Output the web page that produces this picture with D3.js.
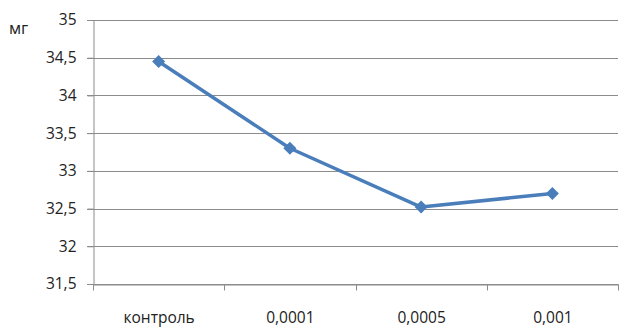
<!DOCTYPE html>
<html><head><meta charset="utf-8">
<script src="https://cdn.jsdelivr.net/npm/d3@7"></script>
<style>body{margin:0;background:#fff}svg{display:block}text{font-family:"Open Sans","Liberation Sans",sans-serif;fill:#222}</style>
</head><body><svg id="c" width="621" height="327"></svg>
<script>
const categories = ["контроль", "0,0001", "0,0005", "0,001"];
const values = [34.45, 33.3, 32.52, 32.7];
const yTicks = [31.5, 32, 32.5, 33, 33.5, 34, 34.5, 35];
const yUnit = "мг";

const svg = d3.select("#c");
const m = {left: 93, right: 3, top: 20, bottom: 43};
const W = 621, H = 327;
const x = d3.scaleBand().domain(categories).range([m.left, W - m.right]);
const y = d3.scaleLinear().domain([31.5, 35]).range([H - m.bottom, m.top]);
const fmt = d => String(d).replace(".", ",");

// gridlines
svg.append("g").selectAll("line").data(yTicks).join("line")
  .attr("x1", m.left - 6).attr("x2", W - m.right)
  .attr("y1", d => Math.round(y(d)) + 0.5).attr("y2", d => Math.round(y(d)) + 0.5)
  .attr("stroke", "#8c8c8c").attr("stroke-width", 1);

// y axis
const ya = svg.append("g").attr("transform", `translate(${m.left + 0.5},0)`)
  .call(d3.axisLeft(y).tickValues(yTicks).tickFormat(fmt).tickSize(6).tickPadding(11));
ya.select(".domain").attr("stroke", "#8c8c8c");
ya.selectAll(".tick line").attr("stroke", "#8c8c8c");
ya.selectAll("text").style("font-size", "15.5px").attr("fill", "#222");

// x axis
const xa = svg.append("g").attr("transform", `translate(0.5,${Math.round(y(31.5)) + 0.5})`)
  .call(d3.axisBottom(x).tickSize(0).tickPadding(27));
xa.select(".domain").attr("stroke", "#8c8c8c");
xa.selectAll("text").style("font-size", "15.5px").attr("fill", "#222");
xa.append("g").selectAll("line").data(categories.concat([null])).join("line")
  .attr("x1", (d, i) => Math.round(m.left + i * x.bandwidth())).attr("x2", (d, i) => Math.round(m.left + i * x.bandwidth()))
  .attr("y1", 0).attr("y2", 6).attr("stroke", "#8c8c8c");

// unit
svg.append("text").attr("x", 9).attr("y", 34).style("font-size", "16.5px").text(yUnit);

const cx = d => x(d) + x.bandwidth() / 2;
const data = categories.map((c, i) => ({c, v: values[i]}));
svg.append("path").datum(data)
  .attr("d", d3.line().x(d => cx(d.c)).y(d => y(d.v)))
  .attr("fill", "none").attr("stroke", "#4a7ebb").attr("stroke-width", 3.5).attr("stroke-linejoin", "round");
svg.append("g").selectAll("path").data(data).join("path")
  .attr("transform", d => `translate(${cx(d.c)},${y(d.v)})`)
  .attr("d", "M0,-6.5L6.5,0L0,6.5L-6.5,0Z").attr("fill", "#4a7ebb");
</script></body></html>
